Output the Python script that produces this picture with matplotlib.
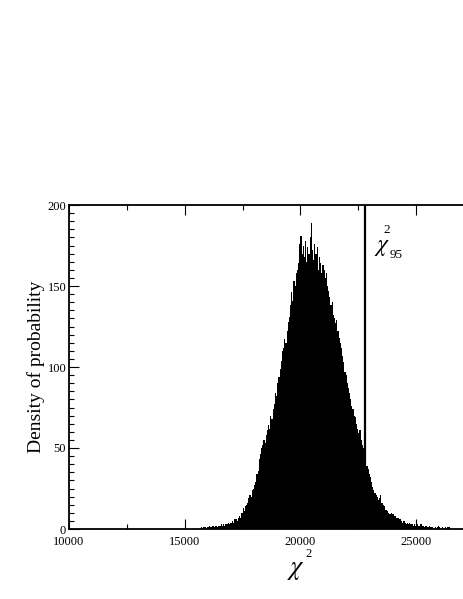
import numpy as np
import matplotlib
matplotlib.use("Agg")
import matplotlib.pyplot as plt
from matplotlib.ticker import MultipleLocator

plt.rcParams["mathtext.fontset"] = "stix"

# histogram of chi^2 values: bins start at 15700, width 50
bin_start = 15700
bin_width = 50
density = [
    1, 0, 1, 1, 0, 1, 1, 2, 1, 1, 2, 1, 2, 2, 1, 2, 2, 3, 2, 3,
    2, 3, 3, 4, 3, 4, 4, 5, 4, 6, 6, 5, 7, 8, 7, 10, 13, 11, 14, 15,
    16, 19, 21, 20, 24, 25, 27, 29, 34, 36, 43, 46, 50, 52, 55, 53, 58, 61, 64, 62,
    70, 68, 74, 77, 84, 82, 90, 94, 99, 104, 110, 112, 117, 115, 122, 128, 131, 138, 146, 141,
    153, 150, 158, 160, 164, 176, 181, 170, 175, 168, 178, 165, 174, 170, 180, 189, 172, 166, 176, 170,
    174, 160, 168, 164, 158, 163, 160, 155, 158, 150, 147, 143, 138, 140, 132, 130, 127, 129, 122, 118,
    115, 112, 107, 103, 97, 95, 90, 87, 84, 80, 76, 74, 70, 69, 65, 62, 59, 61, 55, 52,
    50, 46, 42, 39, 37, 34, 32, 29, 26, 24, 22, 21, 20, 18, 19, 21, 16, 15, 14, 12,
    12, 11, 10, 9, 10, 9, 9, 8, 8, 7, 7, 6, 6, 5, 4, 5, 4, 3, 4, 3,
    4, 3, 3, 2, 3, 2, 2, 3, 2, 3, 3, 2, 2, 1, 2, 1, 1, 2, 1, 1,
    1, 0, 1, 0, 1, 2, 1, 0, 1, 0, 0, 1, 0, 1, 1, 0,
]
chi2_95 = 22790
x_ticks = [10000, 15000, 20000, 25000]
y_ticks = [0, 50, 100, 150, 200]

W, H = 463, 599
fig = plt.figure(figsize=(W / 100, H / 100), dpi=100)
L, R, B, T = 69, 463, 529, 205
ax = fig.add_axes([L / W, 1 - B / H, (R - L) / W, (B - T) / H])

edges = bin_start + bin_width * np.arange(len(density) + 1)
ax.stairs(density, edges, fill=True, color="black", linewidth=0)
ax.axvline(chi2_95, color="black", linewidth=1.6)

ax.set_xlim(10000, 10000 + (R - L) / 23.14 * 1000)
ax.set_ylim(0, 200)
ax.set_xticks(x_ticks)
ax.set_yticks(y_ticks)
ax.xaxis.set_minor_locator(MultipleLocator(2500))
ax.yaxis.set_minor_locator(MultipleLocator(5))

serif = "Liberation Serif"
for lab in ax.get_xticklabels() + ax.get_yticklabels():
    lab.set_fontfamily(serif)
    lab.set_fontsize(9)
ax.tick_params(which="both", direction="in", top=True, right=False, width=0.8)
ax.tick_params(which="major", length=7)
ax.tick_params(which="minor", length=3.5)
ax.tick_params(axis="x", pad=5)
ax.tick_params(axis="y", pad=2)
for s in ax.spines.values():
    s.set_linewidth(1.3)
ax.spines["right"].set_visible(False)

ax.set_ylabel("Density of probability", fontfamily=serif, fontsize=14, labelpad=2)

def px(x, y):
    return x / W, 1 - y / H

fig.text(*px(287, 574), r"$\chi$", fontsize=19, ha="left", va="baseline")
fig.text(*px(305, 557), "2", fontfamily=serif, fontsize=9, ha="left", va="baseline")

fig.text(*px(374, 251), r"$\chi$", fontsize=17, ha="left", va="baseline")
fig.text(*px(383, 233), "2", fontfamily=serif, fontsize=9.5, ha="left", va="baseline")
fig.text(*px(390, 258), "95", fontfamily=serif, fontsize=9.5, ha="left", va="baseline")

fig.savefig("out.png", dpi=100)
